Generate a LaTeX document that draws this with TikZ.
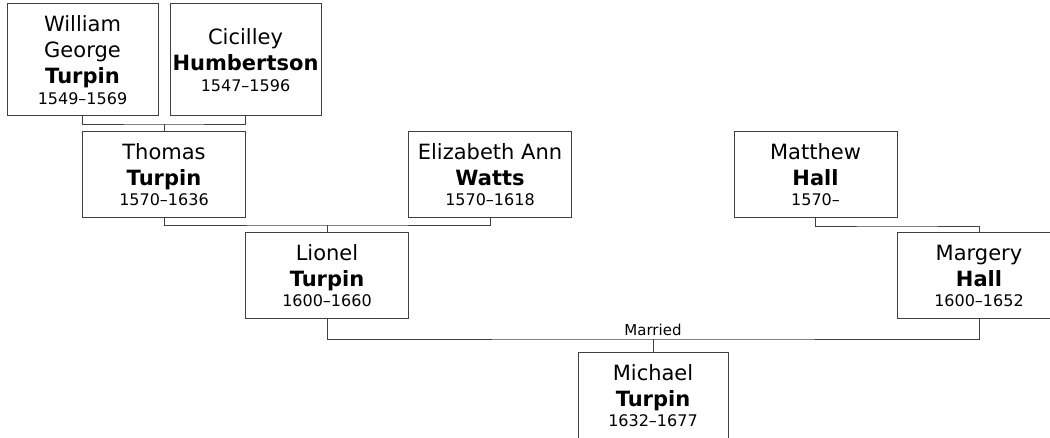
\documentclass[tikz,border=0pt]{standalone}
\usepackage{fontspec}
\setmainfont{DejaVu Sans}
\newcommand{\yrs}[1]{{\fontsize{12}{14}\selectfont #1}}
\begin{document}
\begin{tikzpicture}[x=0.75pt,y=-0.75pt,
  person/.style={draw=black!75, line width=0.75pt, fill=white, align=center,
    inner sep=0pt, font=\fontsize{15.75}{19.5}\selectfont},
  narrow/.style={minimum width=113.25pt},
  wide/.style={minimum width=122.25pt},
  tall/.style={minimum height=84pt},
  short/.style={minimum height=64.5pt},
  link/.style={draw=black!75, line width=0.7pt},
  lbl/.style={font=\fontsize{11.25}{13}\selectfont, inner sep=0pt, anchor=base}]
\useasboundingbox (0,0) rectangle (1050,438);

\node[person,narrow,tall] (W) at (82.5,60) {William\\George\\\textbf{Turpin}\\[-4pt]\yrs{1549–1569}};
\node[person,narrow,tall] (C) at (245.5,60) {Cicilley\\\textbf{Humbertson}\\[-4pt]\yrs{1547–1596}};
\node[person,wide,short] (T) at (164,175) {Thomas\\\textbf{Turpin}\\[-4.5pt]\yrs{1570–1636}};
\node[person,wide,short] (E) at (490,175) {Elizabeth Ann\\\textbf{Watts}\\[-4.5pt]\yrs{1570–1618}};
\node[person,wide,short] (Ma) at (815.5,175) {Matthew\\\textbf{Hall}\\[-4.5pt]\yrs{1570–}};
\node[person,wide,short] (L) at (327,276) {Lionel\\\textbf{Turpin}\\[-4.5pt]\yrs{1600–1660}};
\node[person,wide,short] (Mg) at (979,276) {Margery\\\textbf{Hall}\\[-4.5pt]\yrs{1600–1652}};
\node[person,minimum width=112.5pt,short] (Mi) at (653,396) {Michael\\\textbf{Turpin}\\[-4.5pt]\yrs{1632–1677}};

\coordinate (j1) at (164,124);
\path[link] (W.south) |- (j1) -| (C.south);
\path[link] (j1) -- (T.north);

\coordinate (j2) at (327,225);
\path[link] (T.south) |- (j2) -| (E.south);
\path[link] (j2) -- (L.north);

\coordinate (j3) at (897,226);
\path[link] (Ma.south) |- (j3) -| (Mg.north);

\coordinate (j4) at (653,339);
\path[link] (L.south) |- (j4) -| (Mg.south);
\path[link] (j4) -- (Mi.north);
\node[lbl] (mar) at ([yshift=2.5pt]j4) {Married};
\end{tikzpicture}
\end{document}
